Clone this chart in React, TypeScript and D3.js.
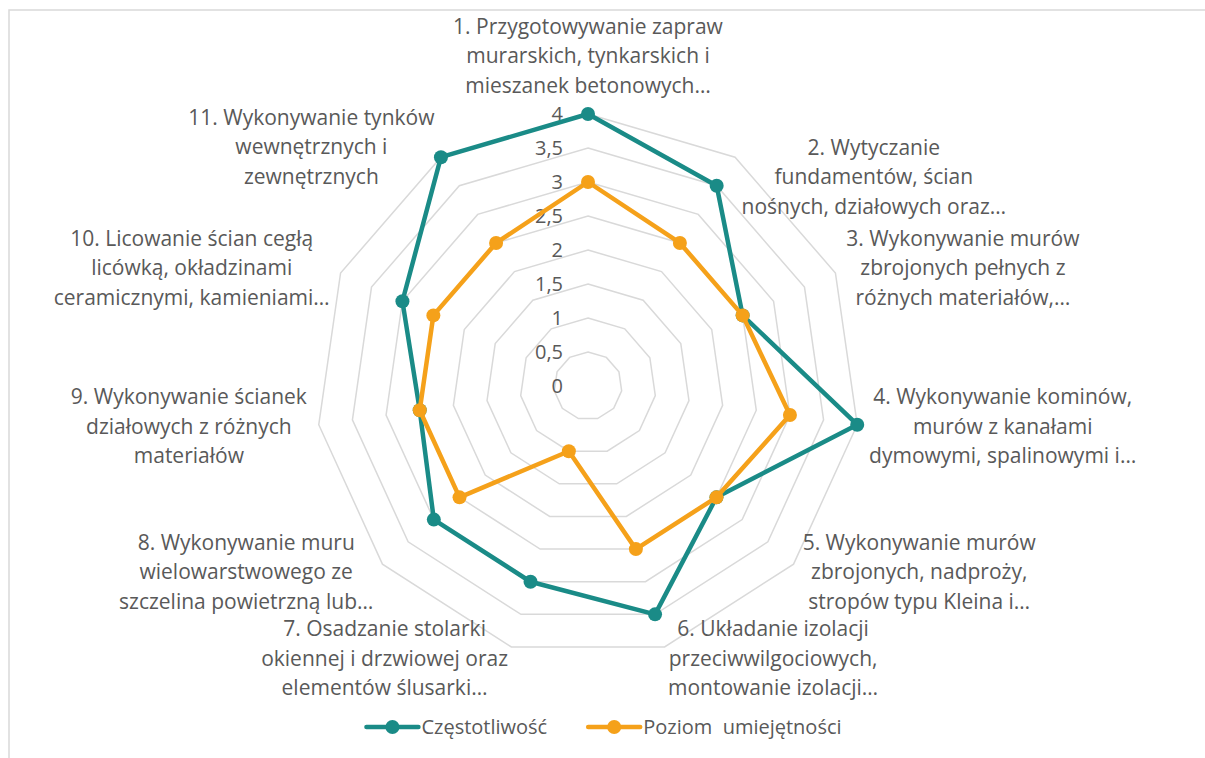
import React, { useEffect, useRef } from 'react';
import * as d3 from 'd3';

// category labels, already broken into lines like in the original chart
const categories: string[][] = [
  ['1. Przygotowywanie zapraw', 'murarskich, tynkarskich i', 'mieszanek betonowych…'],
  ['2. Wytyczanie', 'fundamentów, ścian', 'nośnych, działowych oraz…'],
  ['3. Wykonywanie murów', 'zbrojonych pełnych z', 'różnych materiałów,…'],
  ['4. Wykonywanie kominów,', 'murów z kanałami', 'dymowymi, spalinowymi i…'],
  ['5. Wykonywanie murów', 'zbrojonych, nadproży,', 'stropów typu Kleina i…'],
  ['6. Układanie izolacji', 'przeciwwilgociowych,', 'montowanie izolacji…'],
  ['7. Osadzanie stolarki', 'okiennej i drzwiowej oraz', 'elementów ślusarki…'],
  ['8. Wykonywanie muru', 'wielowarstwowego ze', 'szczelina powietrzną lub…'],
  ['9. Wykonywanie ścianek', 'działowych z różnych', 'materiałów'],
  ['10. Licowanie ścian cegłą', 'licówką, okładzinami', 'ceramicznymi, kamieniami…'],
  ['11. Wykonywanie tynków', 'wewnętrznych i', 'zewnętrznych'],
];

const czestotliwosc = [4, 3.5, 2.5, 4, 2.5, 3.5, 3, 3, 2.5, 3, 4];
const poziomUmiejetnosci = [3, 2.5, 2.5, 3, 2.5, 2.5, 1, 2.5, 2.5, 2.5, 2.5];

const tickValues = [0, 0.5, 1, 1.5, 2, 2.5, 3, 3.5, 4];
const tickLabels = ['0', '0,5', '1', '1,5', '2', '2,5', '3', '3,5', '4'];

const seriesNames = ['Częstotliwość', 'Poziom  umiejętności'];
const seriesColors = ['#1a8b87', '#f5a11a'];

const W = 1205;
const H = 758;
const FONT = "'Open Sans', sans-serif";
const TEXT = '#595959';

export default function App() {
  const ref = useRef<SVGSVGElement | null>(null);

  useEffect(() => {
    const svg = d3.select(ref.current);
    svg.selectAll('*').remove();

    // chart area border (runs off the right/bottom of the picture)
    svg.append('rect')
      .attr('x', 9).attr('y', 10)
      .attr('width', 1220).attr('height', 800)
      .attr('fill', 'white')
      .attr('stroke', '#d9d9d9').attr('stroke-width', 1.5);

    const cx = 588, cy = 386;
    const n = categories.length;
    const r = d3.scaleLinear().domain([0, 4]).range([0, 272]);
    const angle = (i: number) => (i * 2 * Math.PI) / n;
    const pt = (i: number, rad: number): [number, number] =>
      [cx + rad * Math.sin(angle(i)), cy - rad * Math.cos(angle(i))];

    const g = svg.append('g');

    // grid rings
    tickValues.filter(t => t > 0).forEach(t => {
      const pts = d3.range(n).map(i => pt(i, r(t)));
      g.append('path')
        .attr('d', d3.line()(pts) + 'Z')
        .attr('fill', 'none')
        .attr('stroke', '#d9d9d9')
        .attr('stroke-width', 1.5);
    });

    // tick labels along the vertical axis
    g.selectAll('text.tick')
      .data(tickValues)
      .enter().append('text')
      .attr('class', 'tick')
      .attr('x', cx - 25)
      .attr('y', d => cy - r(d))
      .attr('dy', '0.35em')
      .attr('text-anchor', 'end')
      .style('font-family', FONT)
      .style('font-size', '20px')
      .attr('fill', TEXT)
      .text((d, i) => tickLabels[i]);

    // series
    [czestotliwosc, poziomUmiejetnosci].forEach((vals, s) => {
      const pts = vals.map((v, i) => pt(i, r(v)));
      g.append('path')
        .attr('d', d3.line()(pts) + 'Z')
        .attr('fill', 'none')
        .attr('stroke', seriesColors[s])
        .attr('stroke-width', 4.5)
        .attr('stroke-linejoin', 'round');
      g.selectAll('circle.s' + s)
        .data(pts)
        .enter().append('circle')
        .attr('class', 's' + s)
        .attr('cx', d => d[0])
        .attr('cy', d => d[1])
        .attr('r', 7)
        .attr('fill', seriesColors[s]);
    });

    // category labels: block touches the outer ring, lines centred inside it
    const lh = 29.5;
    const gap = 12;
    const labelNudge = [0, 30, 0, 0, 0, 0, 0, 0, 0, 0, 0];
    categories.forEach((lines, i) => {
      const [px, py] = pt(i, r(4) + gap);
      const sx = Math.sin(angle(i));
      const lab = g.append('text')
        .style('font-family', FONT)
        .style('font-size', '21px')
        .attr('fill', TEXT)
        .attr('text-anchor', 'middle');
      const spans = lines.map(l => lab.append('tspan').text(l));
      const w = d3.max(spans, sp => (sp.node() as SVGTSpanElement).getComputedTextLength()) || 0;
      let mx = px;
      if (sx > 0.1) mx = px + w / 2;
      else if (sx < -0.1) mx = px - w / 2;
      const blockH = lines.length * lh;
      let top = py - blockH / 2;
      if (Math.abs(sx) <= 0.1) top = py - blockH - 2;
      top += labelNudge[i];
      spans.forEach((sp, k) => {
        sp.attr('x', mx).attr('y', top + lh * k + lh / 2).attr('dy', '0.35em');
      });
    });

    // legend
    const legend = svg.append('g');
    let x = 0;
    const ly = 727;
    seriesNames.forEach((name, s) => {
      const item = legend.append('g').attr('transform', `translate(${x},0)`);
      item.append('line')
        .attr('x1', 0).attr('x2', 52).attr('y1', ly).attr('y2', ly)
        .attr('stroke', seriesColors[s]).attr('stroke-width', 4.5)
        .attr('stroke-linecap', 'round');
      item.append('circle').attr('cx', 26).attr('cy', ly).attr('r', 7).attr('fill', seriesColors[s]);
      const t = item.append('text')
        .attr('x', 55).attr('y', ly).attr('dy', '0.35em')
        .style('font-family', FONT).style('font-size', '20px')
        .style('white-space', 'pre')
        .attr('fill', TEXT)
        .text(name);
      x += 55 + (t.node() as SVGTextElement).getComputedTextLength() + 41;
    });
    const lw = x - 41;
    legend.attr('transform', `translate(${604 - lw / 2},0)`);
  }, []);

  return (
    <svg ref={ref} width={W} height={H}
      style={{ position: 'absolute', left: 0, top: 0, background: 'white' }} />
  );
}
